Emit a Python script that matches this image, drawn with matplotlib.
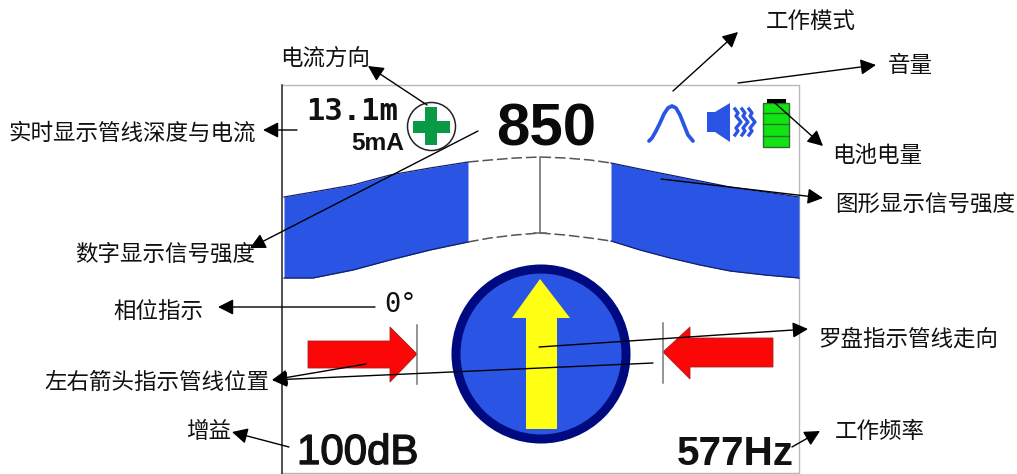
import matplotlib
matplotlib.use("Agg")
import matplotlib.pyplot as plt
import matplotlib.patheffects as pe
from matplotlib.patches import Polygon, Circle, Rectangle

W, H = 1017, 474
CJK = ['Noto Sans CJK SC', 'DejaVu Sans']

callout_labels = ['工作模式', '音量', '电流方向', '实时显示管线深度与电流', '电池电量', '图形显示信号强度',
                  '数字显示信号强度', '相位指示', '罗盘指示管线走向', '左右箭头指示管线位置', '增益', '工作频率']
callout_x = [766, 888, 280, 8, 832, 835, 75, 113, 818, 44, 186, 835]
callout_y = [21, 65, 58, 133, 155, 205, 254, 312, 339, 382, 431, 431]

arrow_tail = [(673, 91), (738, 83), (427, 105), (297, 130), (775, 103), (661, 179), (478, 131),
              (375, 307), (539, 347), (366, 364), (653, 363), (289, 447), (792, 447)]
arrow_tip = [(738, 32), (876, 65), (368, 66), (263, 130), (823, 146), (823, 198), (250, 248),
             (218, 307), (808, 329), (272, 380), (272, 380), (232, 432), (820, 431)]

band_left_x = [284, 313, 353, 390, 430, 468]
band_left_top = [197, 192, 185, 175, 168, 162]
band_left_bot = [278, 278, 270, 260, 250, 242]
band_gap_x = [468, 490, 515, 540, 565, 590, 611]
band_gap_top = [162, 160, 158, 157, 158, 160, 163]
band_gap_bot = [242, 238, 235, 233, 235, 238, 241]
band_right_x = [611, 640, 670, 700, 730, 765, 799]
band_right_top = [163, 169, 175, 181, 187, 192, 197]
band_right_bot = [241, 250, 258, 265, 271, 275, 278]

bell_x = [649, 652, 656, 660, 664, 668, 672, 676, 680, 684, 688, 693]
bell_y = [141, 138, 131, 123, 114, 108, 106, 108, 115, 125, 135, 141]

fig = plt.figure(figsize=(W / 100, H / 100), dpi=100)
ax = fig.add_axes([0, 0, 1, 1])
ax.set_xlim(0, W)
ax.set_ylim(H, 0)
ax.axis('off')

def px(v):
    return v * 0.72

# screen frame
ax.plot([282, 799, 799, 282], [85, 85, 473, 473], color='#b8b8b8', lw=1, zorder=1)
ax.plot([282, 282], [85, 474], color='#222222', lw=1.1, zorder=1)

# signal band
BLUE = '#2a55e4'
for xs, top, bot in [(band_left_x, band_left_top, band_left_bot),
                     (band_right_x, band_right_top, band_right_bot)]:
    ax.fill_between(xs, top, bot, color=BLUE, lw=0, zorder=2)
    ax.plot(xs, top, color='#10206a', lw=0.9, zorder=2)
    ax.plot(xs, bot, color='#10206a', lw=0.9, zorder=2)
ax.plot(band_gap_x, band_gap_top, color='#555555', lw=1.1, ls=(0, (7, 2.5)), zorder=2)
ax.plot(band_gap_x, band_gap_bot, color='#555555', lw=1.1, ls=(0, (7, 2.5)), zorder=2)
ax.plot([540, 540], [157, 233], color='#666666', lw=1.1, zorder=2)
ax.plot([534, 546], [233, 233], color='#666666', lw=1.1, zorder=2)

# compass
ax.add_patch(Circle((541, 354), 85, fc=BLUE, ec='#000a80', lw=6.5, zorder=2))
ax.add_patch(Polygon([(540, 279), (570, 318), (557, 318), (557, 429), (526, 429), (526, 318), (512, 318)],
                     fc='#ffff14', ec='none', zorder=3))

# left / right arrows
ax.add_patch(Polygon([(308, 341), (390, 341), (390, 327), (417, 354), (390, 382), (390, 368), (308, 368)],
                     fc='#fb0707', ec='#a52020', lw=0.6, zorder=3))
ax.add_patch(Polygon([(773, 338), (690, 338), (690, 327), (663, 352), (690, 379), (690, 367), (773, 367)],
                     fc='#fb0707', ec='#a52020', lw=0.6, zorder=3))
ax.plot([417, 417], [325, 384], color='#777777', lw=1.1, zorder=3)
ax.plot([663, 663], [323, 383], color='#777777', lw=1.1, zorder=3)

# current direction
ax.add_patch(Circle((431.5, 126.5), 24, fc='white', ec='#222222', lw=1.1, zorder=2))
ax.add_patch(Rectangle((413, 121), 37, 12, fc='#0a9a46', ec='none', zorder=3))
ax.add_patch(Rectangle((425, 107), 12, 38, fc='#0a9a46', ec='none', zorder=3))

# mode, speaker, battery icons
ax.plot(bell_x, bell_y, color=BLUE, lw=2.7, solid_capstyle='round', zorder=3)
ax.add_patch(Polygon([(707, 112), (715, 112), (730, 103), (730, 142), (715, 132), (707, 132)],
                     fc=BLUE, ec='none', zorder=3))
for x0 in [735, 742, 749]:
    ax.plot([x0, x0 + 3, x0 + 1, x0 + 6, x0 + 1, x0 + 3, x0], [109, 113, 116, 122, 128, 131, 135],
            color=BLUE, lw=2.4, zorder=3)
ax.add_patch(Rectangle((763, 103), 26, 44, fc='#12e312', ec='#2c6e2c', lw=1, zorder=3))
ax.add_patch(Rectangle((767, 99), 19, 4, fc='black', ec='none', zorder=3))
for yy in [113, 124, 136]:
    ax.plot([763, 789], [yy, yy], color='#2c6e2c', lw=1, zorder=4)

# screen readouts
ax.text(398, 120, '13.1m', family='DejaVu Sans Mono', weight='bold', fontsize=px(30.5), ha='right', va='baseline', color='#111111', zorder=5)
ax.text(404, 150, '5mA', family='Liberation Sans', weight='bold', fontsize=px(24.5), ha='right', va='baseline', color='#111111', zorder=5)
ax.text(546, 145, '850', family='Liberation Sans', weight='bold', fontsize=px(60), ha='center', va='baseline', color='#0a0a0a', zorder=5)
ax.text(384, 312, '0°', family='DejaVu Sans Mono', fontsize=px(27), ha='left', va='baseline', color='#111111', zorder=5)
t = ax.text(297, 464, '100dB', family='Liberation Sans', fontsize=px(42), ha='left', va='baseline', color='#111111', zorder=5)
t.set_path_effects([pe.withStroke(linewidth=1.0, foreground='#111111')])
ax.text(677, 465, '577Hz', family='Liberation Sans', weight='bold', fontsize=px(40.5), ha='left', va='baseline', color='#111111', zorder=5)

# callouts
for tail, tip in zip(arrow_tail, arrow_tip):
    ax.annotate('', xy=tip, xytext=tail, zorder=6,
                arrowprops=dict(arrowstyle='-|>,head_length=0.55,head_width=0.28', color='black', lw=1.0,
                                shrinkA=0, shrinkB=0, mutation_scale=17))
for s, x, y in zip(callout_labels, callout_x, callout_y):
    ax.text(x, y, s, family=CJK, fontsize=px(22.5), ha='left', va='center', color='#111111', zorder=7)

fig.savefig('out.png', dpi=100, facecolor='white')
